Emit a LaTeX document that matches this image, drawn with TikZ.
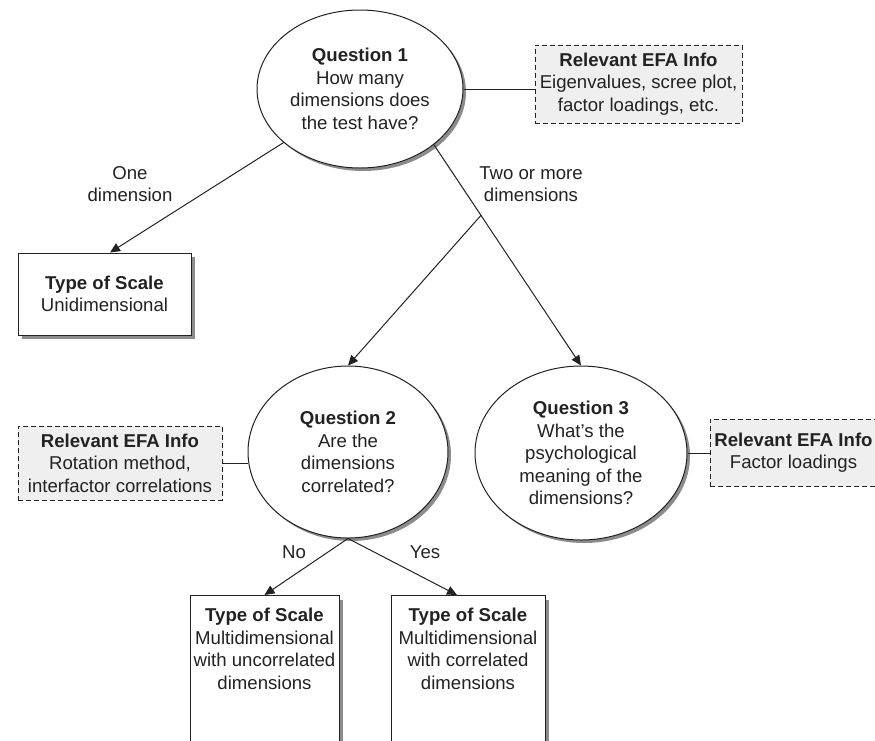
\documentclass[tikz,border=0pt]{standalone}
\usepackage{fontspec}
\setmainfont{Liberation Sans}
\usetikzlibrary{shapes.geometric,arrows.meta,shadows,calc}
\definecolor{ink}{HTML}{222222}
\definecolor{shade}{HTML}{8C8C8C}
\definecolor{infofill}{HTML}{EFEFEF}
\begin{document}
\begin{tikzpicture}[x=1pt,y=-1pt,
  every node/.style={font=\fontsize{18.6}{22.5}\selectfont, text=ink},
  qnode/.style={ellipse, draw=ink, line width=1pt, fill=white, inner sep=0pt, align=center,
    drop shadow={shadow xshift=3pt, shadow yshift=-3pt, fill=shade, opacity=1}},
  infobox/.style={rectangle, draw=ink, line width=0.9pt, dash pattern=on 5pt off 3pt,
    fill=infofill, inner sep=0pt, align=center},
  scalebox/.style={rectangle, draw=ink, line width=1pt, fill=white, inner sep=0pt, align=center,
    drop shadow={shadow xshift=4pt, shadow yshift=-4pt, fill=shade, opacity=1}},
  lbl/.style={align=center, inner sep=0pt},
  conn/.style={draw=ink, line width=1pt},
  arr/.style={draw=ink, line width=1pt, -{Triangle[length=10pt,width=9pt]}}
]
\useasboundingbox (0,0) rectangle (875,740);
\fill[white] (0,0) rectangle (875,740);
\clip (0,0) rectangle (875,740);

% nodes
\node[qnode, minimum width=206pt, minimum height=158pt] (q1) at (360,89)
  {\textbf{Question 1}\\How many\\dimensions does\\the test have?};
\node[infobox, minimum width=207pt, minimum height=78pt] (efa1) at (638.5,84)
  {\textbf{Relevant EFA Info}\\Eigenvalues, scree plot,\\factor loadings, etc.};
\node[lbl] (l1) at (130,184) {One\\dimension};
\node[lbl] (l2) at (531,184) {Two or more\\dimensions};
\node[scalebox, minimum width=173pt, minimum height=82pt] (uni) at (104.5,294)
  {\textbf{Type of Scale}\\Unidimensional};
\node[qnode, minimum width=200pt, minimum height=172pt] (q2) at (348,452)
  {\textbf{Question 2}\\Are the\\dimensions\\correlated?};
\node[qnode, minimum width=212pt, minimum height=174pt] (q3) at (581,453)
  {\textbf{Question 3}\\What's the\\psychological\\meaning of the\\dimensions?};
\node[infobox, minimum width=204pt, minimum height=74pt] (efa2) at (120,463)
  {\textbf{Relevant EFA Info}\\Rotation method,\\interfactor correlations};
\node[infobox, minimum width=167pt, minimum height=67pt] (efa3) at (793.5,452.5)
  {\textbf{Relevant EFA Info}\\Factor loadings};
\node[scalebox, minimum width=149pt, minimum height=175pt, anchor=north] (b1) at (264.5,595) {};
\node[lbl, anchor=north] (b1t) at ([yshift=-13pt]b1.north)
  {\textbf{Type of Scale}\\Multidimensional\\with uncorrelated\\dimensions};
\node[scalebox, minimum width=154pt, minimum height=175pt, anchor=north] (b2) at (468,595) {};
\node[lbl, anchor=north] (b2t) at ([yshift=-13pt]b2.north)
  {\textbf{Type of Scale}\\Multidimensional\\with correlated\\dimensions};
\node[lbl] (lno) at (294,552) {No};
\node[lbl] (lyes) at (425,552) {Yes};

% connectors
\coordinate (unitip) at ($(uni.north)+(5.5pt,0)$);
\coordinate (br) at ($(q1.323)!0.32!(q3.north)$);
\coordinate (b2tip) at ($(b2.north)+(-11pt,0)$);
\draw[conn] (q1.east) -- (q1.east -| efa1.west);
\draw[arr] (q1.215) -- (unitip);
\draw[arr] (q1.323) -- (q3.north);
\draw[arr] (br) -- (q2.north);
\draw[conn] (efa2.east) -- (efa2.east -| q2.west);
\draw[conn] (q3.east) -- (q3.east -| efa3.west);
\draw[arr] (q2.south) -- (b1.north);
\draw[arr] (q2.south) -- (b2tip);
\end{tikzpicture}
\end{document}
